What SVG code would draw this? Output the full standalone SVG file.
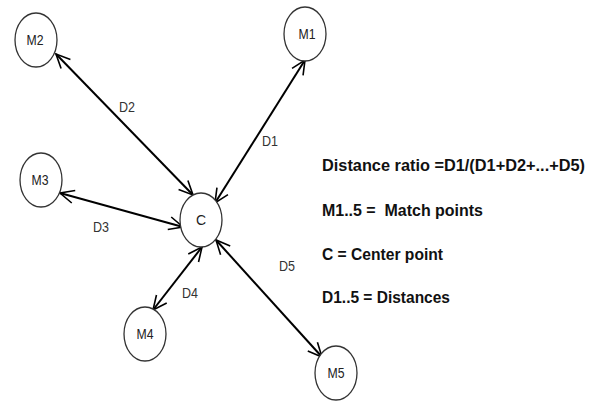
<svg xmlns="http://www.w3.org/2000/svg" width="603" height="401" viewBox="0 0 603 401">
<style>
.node ellipse{fill:#fff;stroke:#333;stroke-width:1.3}
.node text{font-family:"Liberation Sans",Arial,sans-serif;font-size:14px;fill:#222;text-anchor:middle}
.conn line{stroke:#000;stroke-width:2;marker-start:url(#ah);marker-end:url(#ah)}
.lbl{font-family:"Liberation Sans",Arial,sans-serif;font-size:14px;fill:#333;text-anchor:middle}
.legend{font-family:"Liberation Sans",Arial,sans-serif;font-size:16.5px;font-weight:bold;fill:#111}
</style>
<defs>
<marker id="ah" viewBox="0 0 16 16" markerWidth="16" markerHeight="16" refX="15" refY="8" orient="auto-start-reverse" markerUnits="userSpaceOnUse">
<path d="M1,1.5 L15,8 L1,14.5" fill="none" stroke="#000" stroke-width="1.6"/>
</marker>
</defs>
<rect width="603" height="401" fill="#fff"/>
<g id="connectors" class="conn">
<line x1="193" y1="195" x2="56" y2="54"/>
<line x1="215" y1="203" x2="305" y2="60"/>
<line x1="183" y1="227" x2="60" y2="193"/>
<line x1="202" y1="247" x2="153" y2="310"/>
<line x1="216" y1="240" x2="322" y2="357"/>
</g>
<g id="C" class="node"><ellipse cx="201" cy="220" rx="21" ry="27"/><text x="201" y="225">C</text></g>
<g id="M1" class="node"><ellipse cx="305" cy="34" rx="21" ry="27"/><text x="307" y="39" textLength="17" lengthAdjust="spacingAndGlyphs">M1</text></g>
<g id="M2" class="node"><ellipse cx="36" cy="40" rx="21" ry="27"/><text x="35" y="45" textLength="17" lengthAdjust="spacingAndGlyphs">M2</text></g>
<g id="M3" class="node"><ellipse cx="41" cy="180" rx="21" ry="27"/><text x="40" y="185" textLength="17" lengthAdjust="spacingAndGlyphs">M3</text></g>
<g id="M4" class="node"><ellipse cx="145" cy="334" rx="21" ry="27"/><text x="145" y="339" textLength="17" lengthAdjust="spacingAndGlyphs">M4</text></g>
<g id="M5" class="node"><ellipse cx="336" cy="373" rx="21" ry="27"/><text x="336" y="378" textLength="17" lengthAdjust="spacingAndGlyphs">M5</text></g>
<g id="labels">
<text class="lbl" x="127" y="112" textLength="16" lengthAdjust="spacingAndGlyphs">D2</text>
<text class="lbl" x="270" y="146" textLength="16" lengthAdjust="spacingAndGlyphs">D1</text>
<text class="lbl" x="101" y="232" textLength="16" lengthAdjust="spacingAndGlyphs">D3</text>
<text class="lbl" x="190" y="298" textLength="16" lengthAdjust="spacingAndGlyphs">D4</text>
<text class="lbl" x="287" y="271" textLength="16" lengthAdjust="spacingAndGlyphs">D5</text>
</g>
<g id="legend">
<text class="legend" x="322" y="171" textLength="263" lengthAdjust="spacingAndGlyphs">Distance ratio =D1/(D1+D2+...+D5)</text>
<text class="legend" x="322" y="216" textLength="161" lengthAdjust="spacingAndGlyphs" xml:space="preserve">M1..5 =  Match points</text>
<text class="legend" x="322" y="260" textLength="121" lengthAdjust="spacingAndGlyphs">C = Center point</text>
<text class="legend" x="322" y="303" textLength="128" lengthAdjust="spacingAndGlyphs">D1..5 = Distances</text>
</g>
</svg>
